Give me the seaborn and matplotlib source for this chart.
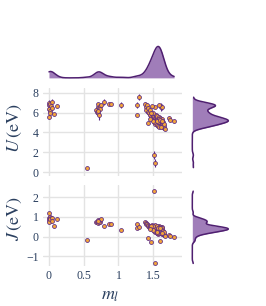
import numpy as np
import pandas as pd
from matplotlib import pyplot as plt
import seaborn as sns

# m_l, U, J per point, U error bar half-height
# cluster near m_l = 0
ml_a = [0.00, 0.00, 0.01, 0.00, 0.02, 0.01, 0.03, 0.00, 0.02, 0.04, 0.05, 0.11, 0.07]
U_a = [7.0, 6.8, 6.6, 6.4, 6.9, 6.2, 6.7, 5.6, 6.0, 7.1, 6.5, 6.7, 5.9]
J_a = [1.22, 0.95, 0.90, 0.85, 1.00, 0.80, 0.92, 0.75, 0.88, 0.95, 0.78, 0.88, 0.55]
Uerr_a = [0.3, 0.0, 0.0, 0.8, 0.0, 0.0, 0.0, 0.0, 0.0, 0.3, 0.0, 0.0, 0.0]

# cluster near m_l = 0.7
ml_b = [0.68, 0.70, 0.71, 0.72, 0.69, 0.73, 0.74, 0.70, 0.72, 0.75, 0.71, 0.79, 0.86, 0.89]
U_b = [6.3, 6.6, 6.9, 6.5, 6.1, 6.7, 6.4, 6.0, 5.8, 6.8, 6.2, 7.1, 6.9, 6.9]
J_b = [0.75, 0.80, 0.85, 0.78, 0.72, 0.82, 0.76, 0.70, 0.74, 0.88, 0.80, 0.52, 0.66, 0.64]
Uerr_b = [0.0, 0.3, 0.0, 0.0, 0.0, 0.0, 0.0, 0.0, 0.5, 0.0, 0.0, 0.3, 0.0, 0.0]

# isolated points
ml_c = [0.54, 1.04, 1.26, 1.27, 1.29, 1.51, 1.52, 1.73, 1.74, 1.80, 1.43, 1.47, 1.60, 1.61]
U_c = [0.45, 6.8, 6.8, 5.75, 7.55, 1.7, 0.95, 5.5, 5.3, 5.2, 4.9, 5.6, 4.6, 6.6]
J_c = [-0.15, 0.35, 0.65, 0.45, 0.50, 2.30, -1.35, 0.10, 0.02, -0.03, -0.08, -0.25, -0.20, 0.50]
Uerr_c = [0.0, 0.3, 0.3, 0.0, 0.3, 0.4, 0.4, 0.15, 0.0, 0.0, 0.0, 0.0, 0.0, 0.4]

# main cluster near m_l = 1.55
ml_d = [1.38, 1.39, 1.40, 1.41, 1.42, 1.43, 1.44, 1.45, 1.46, 1.47, 1.48, 1.49, 1.50, 1.50,
        1.51, 1.52, 1.52, 1.53, 1.53, 1.54, 1.54, 1.55, 1.55, 1.55, 1.56, 1.56, 1.56, 1.57,
        1.57, 1.57, 1.58, 1.58, 1.58, 1.59, 1.59, 1.59, 1.60, 1.60, 1.60, 1.61, 1.61, 1.61,
        1.62, 1.62, 1.63, 1.63, 1.64, 1.64, 1.65, 1.66, 1.67, 1.62, 1.58, 1.52, 1.48,
        1.53, 1.54, 1.55, 1.56, 1.57, 1.58, 1.59, 1.60, 1.61, 1.62, 1.63, 1.64, 1.65,
        1.51, 1.50, 1.49, 1.47, 1.46, 1.56, 1.58, 1.59, 1.57, 1.55, 1.60, 1.62]
U_d = [6.9, 6.6, 6.3, 6.8, 6.1, 6.5, 6.0, 5.8, 6.3, 5.6, 5.9, 5.5, 5.7, 5.3,
       5.6, 5.4, 5.1, 5.5, 5.2, 5.3, 5.6, 5.0, 5.4, 5.2, 5.1, 5.5, 4.9, 5.3,
       5.0, 5.2, 4.9, 5.3, 5.1, 5.0, 4.8, 5.2, 4.9, 5.1, 4.7, 5.0, 4.8, 5.2,
       4.7, 4.9, 4.6, 4.8, 4.5, 4.7, 4.4, 4.6, 4.3, 6.6, 6.8, 6.6, 6.7,
       4.8, 5.8, 4.7, 5.7, 4.6, 5.6, 4.5, 5.5, 4.5, 5.4, 5.2, 5.0, 4.8,
       5.0, 6.0, 5.2, 6.0, 5.4, 5.3, 5.2, 5.4, 5.0, 5.1, 5.3, 5.1]
J_d = [0.74, 0.70, 0.66, 0.62, 0.58, 0.55, 0.50, 0.52, 0.47, 0.44, 0.48, 0.40, 0.45, 0.38,
       0.42, 0.36, 0.40, 0.34, 0.44, 0.38, 0.30, 0.41, 0.36, 0.46, 0.33, 0.39, 0.28, 0.42,
       0.35, 0.30, 0.38, 0.26, 0.44, 0.32, 0.40, 0.24, 0.36, 0.29, 0.21, 0.34, 0.18, 0.40,
       0.27, 0.14, 0.22, 0.31, 0.12, 0.25, 0.08, 0.16, 0.05, 0.48, 0.52, 0.57, 0.60,
       0.22, 0.50, 0.18, 0.52, 0.15, 0.47, 0.20, 0.45, 0.30, 0.44, 0.36, 0.30, 0.26,
       0.28, 0.55, 0.32, 0.56, 0.40, 0.20, 0.33, 0.37, 0.45, 0.25, 0.42, 0.20]
Uerr_d = [0.2, 0.0, 0.3, 0.0, 0.0, 0.2, 0.0, 0.0, 0.0, 0.0, 0.2, 0.0, 0.0, 0.0,
          0.0, 0.0, 0.0, 0.2, 0.0, 0.0, 0.0, 0.0, 0.0, 0.0, 0.0, 0.0, 0.0, 0.0,
          0.0, 0.0, 0.0, 0.0, 0.0, 0.0, 0.0, 0.0, 0.0, 0.0, 0.0, 0.0, 0.0, 0.0,
          0.0, 0.0, 0.0, 0.0, 0.0, 0.0, 0.0, 0.0, 0.0, 0.3, 0.0, 0.0, 0.0,
          0.0, 0.2, 0.0, 0.0, 0.0, 0.0, 0.0, 0.0, 0.0, 0.0, 0.0, 0.0, 0.0,
          0.0, 0.0, 0.0, 0.0, 0.0, 0.0, 0.0, 0.0, 0.0, 0.0, 0.0, 0.0]

x_ticks = [0, 0.5, 1, 1.5]
x_ticklabels = ["0", "0.5", "1", "1.5"]
U_ticks = [0, 2, 4, 6, 8]
J_ticks = [-1, 0, 1, 2]
J_ticklabels = ["\u22121", "0", "1", "2"]

df = pd.DataFrame({
    "ml": ml_a + ml_b + ml_c + ml_d,
    "U": U_a + U_b + U_c + U_d,
    "J": J_a + J_b + J_c + J_d,
    "U_err": Uerr_a + Uerr_b + Uerr_c + Uerr_d,
})

sns.set_theme(style="whitegrid")
plt.rcParams["font.family"] = ["Liberation Serif", "DejaVu Serif"]
plt.rcParams["mathtext.fontset"] = "stix"

text_col = "#2a3f5f"
grid_col = "#e3e3e3"
fill_col = "#a07db9"
line_col = "#4f1f70"
pt_face = "#f2a33a"
pt_edge = "#5b2a86"

W, H = 266, 306
fig = plt.figure(figsize=(W / 100, H / 100), dpi=100)


def box(l, t, r, b):
    return [l / W, 1 - b / H, (r - l) / W, (b - t) / H]


ax_u = fig.add_axes(box(43, 88, 182, 176))
ax_j = fig.add_axes(box(43, 185, 182, 266))
ax_top = fig.add_axes(box(43, 38, 182, 78.5))
ax_ru = fig.add_axes(box(191, 88, 236, 176))
ax_rj = fig.add_axes(box(191, 185, 236, 266))

xlim = (-0.086, 1.914)

for ax, col, lim, ticks in [(ax_u, "U", (-0.40, 8.48), U_ticks), (ax_j, "J", (-1.48, 2.61), J_ticks)]:
    ax.errorbar(df["ml"], df[col], yerr=df["U_err"] if col == "U" else None, fmt="none",
                ecolor=pt_edge, elinewidth=0.8, capsize=0, zorder=2)
    sns.scatterplot(data=df, x="ml", y=col, ax=ax, s=8, marker="o", color=pt_face,
                    edgecolor=pt_edge, linewidth=0.55, zorder=3)
    ax.set_xlim(*xlim)
    ax.set_ylim(*lim)
    ax.set_xticks(x_ticks)
    ax.set_yticks(ticks)
    ax.set_xlabel("")
    ax.set_ylabel("")
    ax.grid(True, color=grid_col, linewidth=1.0)
    ax.set_facecolor("white")
    for s in ax.spines.values():
        s.set_visible(False)
    ax.tick_params(length=0, labelsize=8.5, colors=text_col, pad=3)

ax_u.set_xticklabels([])
ax_j.set_xticklabels(x_ticklabels)
ax_j.set_yticklabels(J_ticklabels)

# marginal densities
sns.kdeplot(data=df, x="ml", ax=ax_top, fill=True, cut=0, bw_adjust=0.3,
            color=fill_col, alpha=1, linewidth=0)
sns.kdeplot(data=df, x="ml", ax=ax_top, cut=0, bw_adjust=0.3, color=line_col, linewidth=1.1)
top_peak = ax_top.lines[-1].get_ydata().max()
ax_top.set_xlim(*xlim)
ax_top.set_ylim(-top_peak * 0.02, top_peak * 40 / 31.5)

for ax, col, lim, bw in [(ax_ru, "U", ax_u.get_ylim(), 0.5), (ax_rj, "J", ax_j.get_ylim(), 0.55)]:
    sns.kdeplot(data=df, y=col, ax=ax, fill=True, cut=0, bw_adjust=bw,
                color=fill_col, alpha=1, linewidth=0)
    sns.kdeplot(data=df, y=col, ax=ax, cut=0, bw_adjust=bw, color=line_col, linewidth=1.1)
    peak = ax.lines[-1].get_xdata().max()
    ax.set_ylim(*lim)
    ax.set_xlim(-peak * 1.3 / 36, peak * 43.7 / 36)

for ax in [ax_top, ax_ru, ax_rj]:
    ax.set_axis_off()

fig.text(15 / W, 1 - 128 / H, r"$U\,(\mathrm{eV})$", rotation=90, ha="center",
         va="center", fontsize=13, color=text_col)
fig.text(15 / W, 1 - 219 / H, r"$J\,(\mathrm{eV})$", rotation=90, ha="center",
         va="center", fontsize=13, color=text_col)
fig.text(110 / W, 1 - 296 / H, r"$m_l$", ha="center", va="center",
         fontsize=13, color=text_col)

fig.savefig("out.png", dpi=100)
